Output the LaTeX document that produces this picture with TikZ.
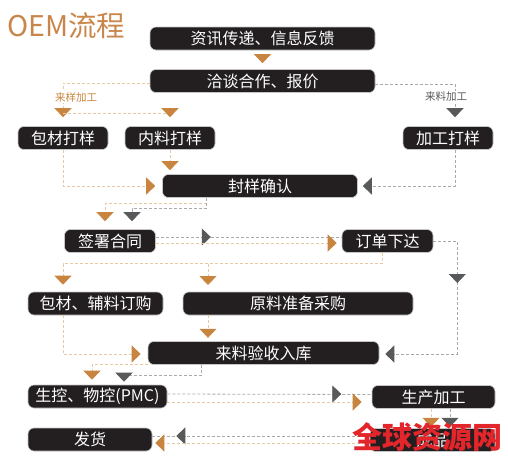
\documentclass[tikz,border=0pt]{standalone}
\usepackage{fontspec}
\setmainfont{Noto Sans CJK SC}
\usetikzlibrary{arrows.meta}

\definecolor{boxblack}{HTML}{231F20}
\definecolor{tipor}{HTML}{C8853F}
\definecolor{tipgr}{HTML}{58595B}
\definecolor{lineor}{HTML}{E8C7A2}
\definecolor{linegr}{HTML}{A7A9AC}
\definecolor{titleor}{HTML}{C8864A}
\definecolor{markred}{HTML}{E3262B}

\tikzset{
    stepbox/.style={fill=boxblack, draw=gray!45, line width=0.6pt, rounded corners=6pt,
        text=white, inner sep=0pt, minimum height=23pt, font=\fontsize{16}{16}\selectfont},
    oline/.style={draw=lineor, line width=0.8pt, dash pattern=on 3pt off 2pt},
    gline/.style={draw=linegr, line width=0.8pt, dash pattern=on 3pt off 2pt},
    oarrow/.style={oline, -{Triangle[width=17pt, length=9pt, color=tipor]}},
    garrow/.style={gline, -{Triangle[width=17pt, length=9pt, color=tipgr]}},
    tag/.style={fill=white, inner sep=1pt, font=\fontsize{10.5}{10.5}\selectfont},
}

\begin{document}
\begin{tikzpicture}[x=1pt, y=-1pt]
    \useasboundingbox (0,0) rectangle (508,461);
    \node[anchor=west, text=titleor, font=\fontsize{28.5}{28.5}\selectfont, inner sep=0pt] (title) at (7,26) {OEM流程};

    % steps
    \node[stepbox, minimum width=225pt] (info) at (262.5,38.5) {资讯传递、信息反馈};
    \node[stepbox, minimum width=225pt] (talk) at (262.5,81) {洽谈合作、报价};
    \node[stepbox, minimum width=90pt] (pack) at (63,138) {包材打样};
    \node[stepbox, minimum width=90pt] (inner) at (170,138) {内料打样};
    \node[stepbox, minimum width=90pt] (proc) at (448,138) {加工打样};
    \node[stepbox, minimum width=195pt] (seal) at (260,186) {封样确认};
    \node[stepbox, minimum width=91pt] (sign) at (110,241) {签署合同};
    \node[stepbox, minimum width=91pt] (order) at (387.5,241) {订单下达};
    \node[stepbox, minimum width=135pt] (buy) at (95.5,303.5) {包材、辅料订购};
    \node[stepbox, minimum width=230pt] (raw) at (298,303.5) {原料准备采购};
    \node[stepbox, minimum width=231pt] (recv) at (263.5,353) {来料验收入库};
    \node[stepbox, minimum width=139pt] (pmc) at (97.5,396.5) {生控、物控(PMC)};
    \node[stepbox, minimum width=123pt] (make) at (433.5,397) {生产加工};
    \node[stepbox, minimum width=125pt] (goods) at (432.5,440) {成品};
    \node[stepbox, minimum width=124pt] (ship) at (90,439.5) {发货};

    % top part
    \draw[oarrow, shorten <=4pt, shorten >=6pt] (info.south) -- (talk.north);
    \draw[oarrow, shorten >=9pt] ([yshift=-2pt]talk.west) -| (pack.north);
    \coordinate (split) at (63,113);
    \draw[oline] (split) -- (split -| inner.north);
    \draw[oarrow] ([yshift=18pt]inner.north) -- ++(0,9);
    \draw[garrow, shorten >=9pt] ([yshift=-3pt]talk.east) -| ([xshift=7pt]proc.north);
    \node[tag, text=tipor] (lbl1) at (76,97) {来样加工};
    \node[tag, text=tipgr] (lbl2) at (446,97) {来料加工};

    % samples
    \draw[oarrow, shorten >=4pt] (inner.south) -- (inner.south |- seal.north);
    \draw[oarrow, shorten >=7pt] (pack.south) |- (seal.west);
    \draw[garrow, shorten >=5pt] ([xshift=7pt]proc.south) |- (seal.east);
    \draw[oarrow, shorten >=8pt] ([xshift=-54pt]seal.south) -- ++(0,6) -| ([xshift=-5pt]sign.north);
    \draw[garrow, shorten >=8pt] ([xshift=-54pt]seal.south) -- ++(0,11) -| ([xshift=22pt]sign.north);

    % contract and order
    \draw[gline] ([yshift=4pt]sign.east) -- ([yshift=4pt]order.west);
    \draw[garrow] ([yshift=4pt,xshift=46pt]sign.east) -- ++(9,0);
    \draw[oarrow, shorten >=5pt] ([yshift=-2pt]sign.east) -- ([yshift=-2pt]order.west);
    \draw[oarrow, shorten >=7pt] ([xshift=-5.5pt]order.south) -- ++(0,11) -| ([xshift=-32.5pt]buy.north);
    \coordinate (rawsplit) at (208,263.5);
    \draw[oarrow, shorten >=7pt] (rawsplit) -- ++(0,28.5);
    \draw[garrow, shorten >=6pt] (order.east) -- ++(24,0) -- ++(0,113) -- ([yshift=-1pt]recv.east);
    \draw[garrow] ([xshift=24pt]order.east) ++(0,33) -- ++(0,9);

    % purchase
    \draw[oarrow, shorten >=4pt] ([xshift=-90pt]raw.south) -- ++(0,26.5);
    \draw[oarrow, shorten >=7pt] ([xshift=-32.5pt]buy.south) |- ([yshift=-1pt]recv.west);
    \draw[garrow, shorten >=3pt] ([xshift=-62.5pt]recv.south) -- ++(0,11) -| ([xshift=26.5pt]pmc.north);
    \draw[oarrow, shorten >=5pt] (recv.south west) -| ([xshift=-5.5pt]pmc.north);

    % production
    \draw[gline] ([yshift=2.5pt]pmc.east) -- ([yshift=2.5pt]make.west);
    \draw[garrow] ([yshift=2.5pt,xshift=165pt]pmc.east) -- ++(9,0);
    \draw[oarrow, shorten >=10pt] ([yshift=-5.5pt]pmc.east) -- ([yshift=-5pt]make.west);
    \draw[oarrow, shorten >=2pt] ([xshift=-2.5pt]make.south) -- ++(0,20);
    \draw[garrow, shorten >=2pt] ([xshift=16.5pt]make.south) -- ++(0,20);
    \draw[gline] ([yshift=4pt]goods.west) -- ([yshift=3.5pt]ship.east);
    \draw[garrow] ([yshift=3.5pt,xshift=33pt]ship.east) -- ++(-9,0);
    \draw[oarrow, shorten >=3pt] ([yshift=-3pt]goods.west) -- ([yshift=-3.5pt]ship.east);

    \node[text=markred, font=\fontsize{30}{30}\selectfont\bfseries] (mark) at (427,437) {全球资源网};
\end{tikzpicture}
\end{document}
